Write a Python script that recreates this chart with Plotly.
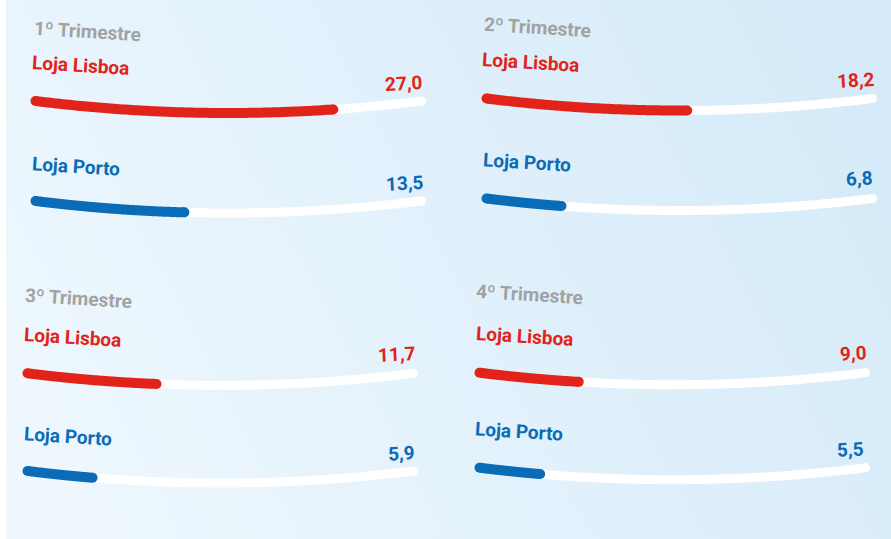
import base64
import numpy as np
import plotly.graph_objects as go

# ---------------- data ----------------
quarters = ["1º Trimestre", "2º Trimestre", "3º Trimestre", "4º Trimestre"]
stores = ["Loja Lisboa", "Loja Porto"]
lisboa = [27.0, 18.2, 11.7, 9.0]
porto = [13.5, 6.8, 5.9, 5.5]
SCALE_MAX = 35.0

# ---------------- style / layout ----------------
W, H = 891, 539
COLORS = {"Loja Lisboa": "#e2231a", "Loja Porto": "#0a6bb6"}
TITLE_COLOR = "#a2a2a2"
TRACK_COLOR = "#ffffff"
FONT = "Roboto"
FS = 19
BAR_W = 10
TRACK_W = 9
SAG = 12  # px sag of curved track

# pixel geometry per panel: track left/right extremes, track end y for each store
panels = [
    dict(tl=31, tr=426, ys=[101, 201], title=(87, 31), labels=[(80.5, 65), (76, 166)],
         values=[(403.5, 83.5), (404, 183.5)]),
    dict(tl=482, tr=877, ys=[98.5, 198.5], title=(537, 27.5), labels=[(531, 62), (527, 162.5)],
         values=[(855, 80), (859.5, 178.5)]),
    dict(tl=23, tr=418, ys=[373.3, 471], title=(78.5, 298.5), labels=[(72.5, 337), (68, 436)],
         values=[(396, 354.7), (400.5, 453)]),
    dict(tl=475, tr=870, ys=[372.7, 467.7], title=(529, 294.7), labels=[(525, 336.3), (519, 431.8)],
         values=[(853.3, 353.7), (850.8, 449.3)]),
]

fig = go.Figure()
annotations = []
layout_axes = {}


def curve(x):
    t = np.asarray(x) / SCALE_MAX
    return -SAG * 4 * t * (1 - t)


def fmt(v):
    return f"{v:.1f}".replace(".", ",")


ax = 0
for qi, q in enumerate(quarters):
    p = panels[qi]
    vals = [lisboa[qi], porto[qi]]
    tx, ty = p["title"]
    annotations.append(dict(text=q, x=tx / W, y=1 - ty / H, xref="paper", yref="paper",
                            xanchor="center", yanchor="middle", showarrow=False, textangle=3.5,
                            font=dict(family=FONT, size=FS, color=TITLE_COLOR, weight="bold")))
    for si, s in enumerate(stores):
        ax += 1
        xa = "x" if ax == 1 else f"x{ax}"
        ya = "y" if ax == 1 else f"y{ax}"
        yend = p["ys"][si]
        r = TRACK_W / 2
        x0 = (p["tl"] + r) / W
        x1 = (p["tr"] - r) / W
        layout_axes["xaxis" if ax == 1 else f"xaxis{ax}"] = dict(
            domain=[x0, x1], range=[0, SCALE_MAX], visible=False, anchor=ya, fixedrange=True)
        layout_axes["yaxis" if ax == 1 else f"yaxis{ax}"] = dict(
            domain=[1 - (yend + 25) / H, 1 - (yend - 15) / H], range=[-25, 15],
            visible=False, anchor=xa, fixedrange=True)
        # track
        xt = np.linspace(0, SCALE_MAX, 120)
        fig.add_trace(go.Scatter(x=xt, y=curve(xt), mode="lines", xaxis=xa, yaxis=ya,
                                 line=dict(color=TRACK_COLOR, width=TRACK_W, simplify=False),
                                 cliponaxis=False, hoverinfo="skip", showlegend=False))
        fig.add_trace(go.Scatter(x=[0, SCALE_MAX], y=curve([0, SCALE_MAX]), mode="markers",
                                 xaxis=xa, yaxis=ya, cliponaxis=False,
                                 marker=dict(color=TRACK_COLOR, size=TRACK_W, line=dict(width=0)),
                                 hoverinfo="skip", showlegend=False))
        # value bar
        v = vals[si]
        xv = np.linspace(0, v, 100)
        fig.add_trace(go.Scatter(x=xv, y=curve(xv), mode="lines", xaxis=xa, yaxis=ya,
                                 line=dict(color=COLORS[s], width=BAR_W, simplify=False),
                                 cliponaxis=False, name=s,
                                 hovertemplate=f"{q}<br>{s}: {fmt(v)}<extra></extra>",
                                 showlegend=False))
        fig.add_trace(go.Scatter(x=[0, v], y=curve([0, v]), mode="markers",
                                 xaxis=xa, yaxis=ya, cliponaxis=False,
                                 marker=dict(color=COLORS[s], size=BAR_W, line=dict(width=0)),
                                 hoverinfo="skip", showlegend=False))
        lx, ly = p["labels"][si]
        annotations.append(dict(text=s, x=lx / W, y=1 - ly / H, xref="paper", yref="paper",
                                xanchor="center", yanchor="middle", showarrow=False, textangle=3.5,
                                font=dict(family=FONT, size=FS, color=COLORS[s], weight="bold")))
        vx, vy = p["values"][si]
        annotations.append(dict(text=fmt(v), x=vx / W, y=1 - vy / H, xref="paper", yref="paper",
                                xanchor="center", yanchor="middle", showarrow=False, textangle=-3,
                                font=dict(family=FONT, size=FS, color=COLORS[s], weight="bold")))

# background gradient
svg = ('<svg xmlns="http://www.w3.org/2000/svg" width="885" height="539">'
       '<defs><linearGradient id="g" gradientUnits="userSpaceOnUse" x1="0" y1="539" x2="885" y2="80">'
       '<stop offset="0" stop-color="#f0f8fe"/><stop offset="1" stop-color="#d4eaf8"/>'
       '</linearGradient></defs><rect width="885" height="539" fill="url(#g)"/></svg>')
uri = "data:image/svg+xml;base64," + base64.b64encode(svg.encode()).decode()

fig.update_layout(
    width=W, height=H, margin=dict(l=0, r=0, t=0, b=0),
    paper_bgcolor="#ffffff", plot_bgcolor="rgba(0,0,0,0)",
    annotations=annotations,
    images=[dict(source=uri, xref="paper", yref="paper", x=6 / W, y=1, sizex=885 / W, sizey=1,
                 xanchor="left", yanchor="top", sizing="stretch", layer="below")],
    **layout_axes,
)

fig.write_html("out.html", config={"displayModeBar": False})
